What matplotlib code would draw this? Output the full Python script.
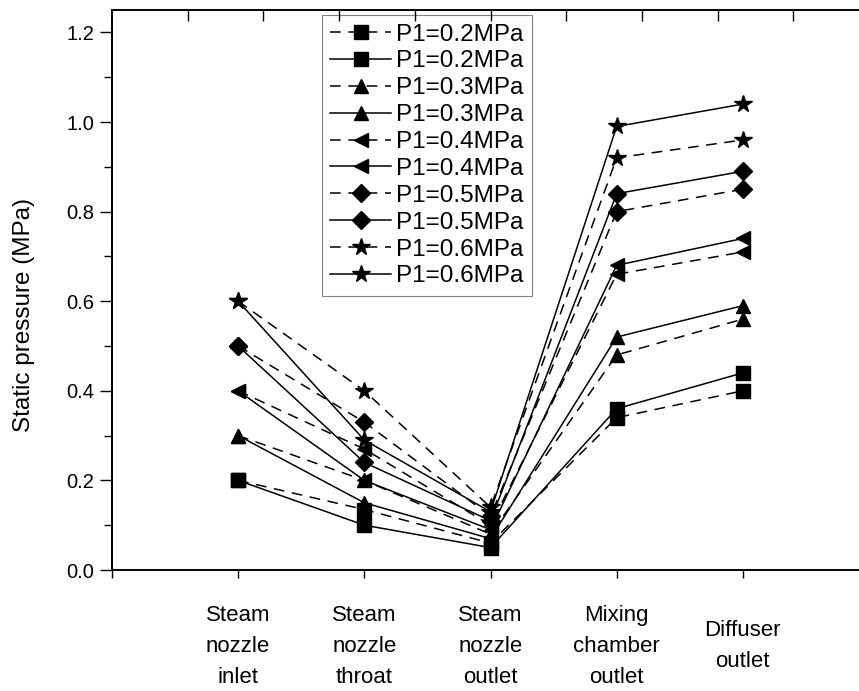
import numpy as np
import matplotlib
matplotlib.use("Agg")
import matplotlib.pyplot as plt

plt.rcParams['font.family'] = ['Liberation Sans', 'DejaVu Sans']

# measuring points along the ejector
locations = ["Steam\nnozzle\ninlet", "Steam\nnozzle\nthroat", "Steam\nnozzle\noutlet",
             "Mixing\nchamber\noutlet", "Diffuser\noutlet"]
pressures = ["0.2", "0.3", "0.4", "0.5", "0.6"]
markers = ["s", "^", "<", "D", "*"]

# dashed series
dashed_values = [
    [0.20, 0.135, 0.06, 0.34, 0.40],
    [0.30, 0.20, 0.08, 0.48, 0.56],
    [0.40, 0.27, 0.10, 0.66, 0.71],
    [0.50, 0.33, 0.12, 0.80, 0.85],
    [0.60, 0.40, 0.14, 0.92, 0.96],
]
# solid series
solid_values = [
    [0.20, 0.10, 0.05, 0.36, 0.44],
    [0.30, 0.15, 0.07, 0.52, 0.59],
    [0.40, 0.20, 0.09, 0.68, 0.74],
    [0.50, 0.24, 0.11, 0.84, 0.89],
    [0.60, 0.29, 0.13, 0.99, 1.04],
]

x = np.arange(1, len(locations) + 1)

fig = plt.figure(figsize=(8.59, 6.91), dpi=100)
# axes run past the right edge of the picture (cropped original)
ax = fig.add_axes([112 / 859, (691 - 570) / 691, 757 / 859, 560 / 691])

for i, p in enumerate(pressures):
    ms = 13 if markers[i] == "*" else (9 if markers[i] == "D" else 9.5)
    ax.plot(x, dashed_values[i], color="black", lw=1.1, ls=(0, (7, 5)),
            marker=markers[i], ms=ms, label="P1=" + p + "MPa")
    ax.plot(x, solid_values[i], color="black", lw=1.1, ls="-",
            marker=markers[i], ms=ms, label="P1=" + p + "MPa")

ax.set_xlim(0, 6)
ax.set_ylim(0, 1.25)
ax.set_xticks(np.arange(0, 6))
ax.set_xticklabels([""] + locations, fontsize=16, linespacing=1.62)
for lab in ax.get_xticklabels():
    lab.set_verticalalignment("center")
ax.set_yticks(np.arange(0, 1.21, 0.2))
ax.set_yticks(np.arange(0.1, 1.2, 0.2), minor=True)
ax.set_yticklabels(["%.1f" % v for v in np.arange(0, 1.21, 0.2)], fontsize=14.5)
ax.tick_params(axis="x", direction="out", length=6, width=1, pad=49)
ax.tick_params(axis="y", which="major", direction="out", length=9, width=1, pad=4)
ax.tick_params(axis="y", which="minor", direction="out", length=6, width=1)
ax.set_ylabel("Static pressure (MPa)", fontsize=17.5)
ax.yaxis.set_label_coords(-0.102, 0.455)

# top axis ticks, pointing inward
top = ax.twiny()
top.set_xlim(0, 6)
top.set_xticks(np.arange(0.6, 6, 0.6))
top.tick_params(axis="x", direction="in", length=8, width=1, labeltop=False)

for a in (ax, top):
    for s in a.spines.values():
        s.set_linewidth(1.2)

leg = ax.legend(loc="upper left", bbox_to_anchor=(0.277, 0.991), fontsize=17.5,
                handlelength=2.5, labelspacing=0.2, borderaxespad=0,
                fancybox=False, edgecolor="gray", framealpha=1,
                handletextpad=0.2, borderpad=0.35)
leg.get_frame().set_linewidth(0.8)

fig.savefig("out.png", dpi=100)
